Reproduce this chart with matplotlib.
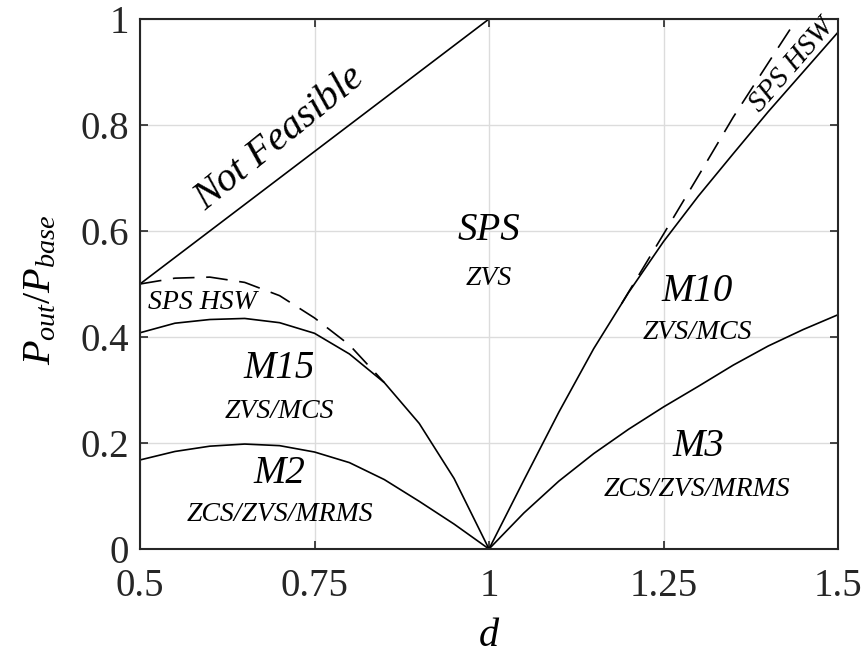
import matplotlib
matplotlib.use("Agg")
import matplotlib.pyplot as plt

plt.rcParams['font.family'] = ['Liberation Serif', 'DejaVu Serif']
plt.rcParams['mathtext.fontset'] = 'custom'
plt.rcParams['mathtext.rm'] = 'Liberation Serif'
plt.rcParams['mathtext.it'] = 'Liberation Serif:italic'

# boundary curves
d_left = [0.5, 0.55, 0.6, 0.65, 0.7, 0.75, 0.8, 0.85, 0.9, 0.95, 1.0]
m15_top = [0.408, 0.426, 0.433, 0.435, 0.427, 0.407, 0.368, 0.314, 0.237, 0.133, 0.0]
m2_top = [0.168, 0.184, 0.194, 0.198, 0.195, 0.183, 0.163, 0.131, 0.090, 0.047, 0.0]

d_hsw_left = [0.5, 0.55, 0.6, 0.65, 0.7, 0.75, 0.8, 0.85]
hsw_left = [0.5, 0.511, 0.513, 0.503, 0.478, 0.436, 0.385, 0.314]

d_right = [1.0, 1.05, 1.1, 1.15, 1.2, 1.25, 1.3, 1.35, 1.4, 1.45, 1.5]
m10_top = [0.0, 0.13, 0.258, 0.378, 0.484, 0.58, 0.666, 0.746, 0.825, 0.90, 0.975]
m3_top = [0.0, 0.068, 0.128, 0.180, 0.226, 0.268, 0.307, 0.347, 0.383, 0.414, 0.442]

d_hsw_right = [1.19, 1.25, 1.3, 1.35, 1.4, 1.441]
hsw_right = [0.463, 0.594, 0.704, 0.815, 0.917, 1.0]

d_nf = [0.5, 1.0]
nf_line = [0.5, 1.0]

fig = plt.figure(figsize=(8.65, 6.56), dpi=100)
ax = fig.add_axes([140 / 865, 107 / 656, 698 / 865, 530 / 656])

lw = 1.2
dash = (0, (13, 7))
ax.plot(d_nf, nf_line, color='black', lw=lw)
ax.plot(d_left, m15_top, color='black', lw=lw)
ax.plot(d_left, m2_top, color='black', lw=lw)
ax.plot(d_right, m10_top, color='black', lw=lw)
ax.plot(d_right, m3_top, color='black', lw=lw)
ax.plot(d_hsw_left, hsw_left, color='black', lw=lw, linestyle=dash)
ax.plot(d_hsw_right, hsw_right, color='black', lw=lw, linestyle=dash)

ax.set_xlim(0.5, 1.5)
ax.set_ylim(0, 1)
ax.set_xticks([0.5, 0.75, 1, 1.25, 1.5])
ax.set_xticklabels(['0.5', '0.75', '1', '1.25', '1.5'])
ax.set_yticks([0, 0.2, 0.4, 0.6, 0.8, 1])
ax.set_yticklabels(['0', '0.2', '0.4', '0.6', '0.8', '1'])
ax.grid(True, color='#dcdcdc', lw=1)
ax.set_axisbelow(True)
ax.tick_params(direction='in', length=6, width=1.2, top=True, right=True,
               labelsize=28, colors='#262626')
ax.tick_params(axis='x', pad=14)
ax.tick_params(axis='y', pad=8)
for s in ax.spines.values():
    s.set_linewidth(1.5)
    s.set_color('#262626')

ax.set_xlabel('d', fontsize=29, fontstyle='italic', va='center')
ax.xaxis.set_label_coords(0.5, -0.165)
ax.set_ylabel(r'$P_{out}/P_{base}$', fontsize=29, va='center')
ax.yaxis.set_label_coords(-0.142, 0.49)

big = dict(fontsize=28, fontstyle='italic', ha='center', va='center')
small = dict(fontsize=20, fontstyle='italic', ha='center', va='center')

ax.text(0.70, 0.775, 'Not Feasible', rotation=39, fontsize=29,
        fontstyle='italic', ha='center', va='center')
ax.text(1.0, 0.60, 'SPS', **big)
ax.text(1.0, 0.51, 'ZVS', **small)
ax.text(0.59, 0.466, 'SPS HSW', **small)
ax.text(0.70, 0.34, 'M15', **big)
ax.text(0.70, 0.26, 'ZVS/MCS', **small)
ax.text(0.70, 0.143, 'M2', **big)
ax.text(0.70, 0.066, 'ZCS/ZVS/MRMS', **small)
ax.text(1.298, 0.485, 'M10', **big)
ax.text(1.298, 0.408, 'ZVS/MCS', **small)
ax.text(1.30, 0.193, 'M3', **big)
ax.text(1.298, 0.113, 'ZCS/ZVS/MRMS', **small)
ax.text(1.434, 0.913, 'SPS HSW', rotation=49, fontsize=21,
        fontstyle='italic', ha='center', va='center')

fig.savefig('out.png', dpi=100)
